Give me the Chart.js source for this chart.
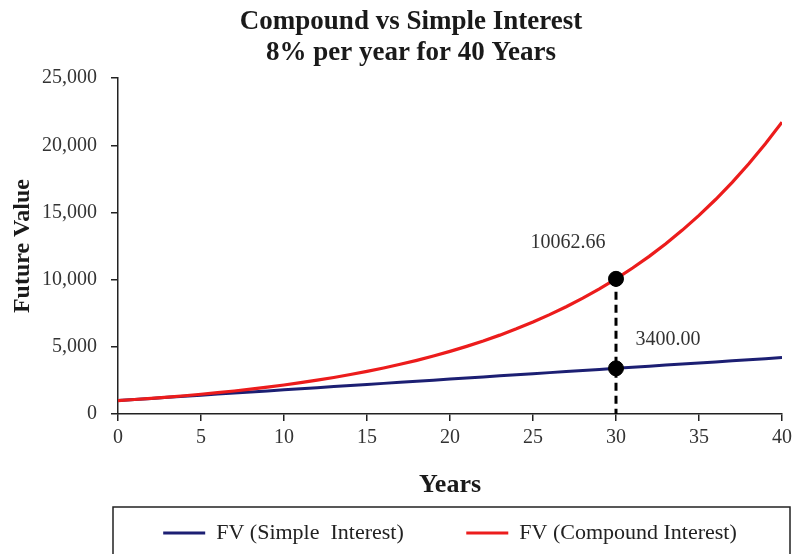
<!DOCTYPE html>
<html>
<head>
<meta charset="utf-8">
<script src="https://cdn.jsdelivr.net/npm/chart.js@4/dist/chart.umd.min.js"></script>
<style>
  html, body { margin: 0; padding: 0; background: #fff; }
  #wrap { width: 792px; height: 554px; }
</style>
</head>
<body>
<div id="wrap"><canvas id="fvChart"></canvas></div>
<script>
// data
const years = [0, 1, 2, 3, 4, 5, 6, 7, 8, 9, 10, 11, 12, 13, 14, 15, 16, 17, 18, 19, 20,
  21, 22, 23, 24, 25, 26, 27, 28, 29, 30, 31, 32, 33, 34, 35, 36, 37, 38, 39, 40];
const simpleFV = [1000, 1080, 1160, 1240, 1320, 1400, 1480, 1560, 1640, 1720, 1800,
  1880, 1960, 2040, 2120, 2200, 2280, 2360, 2440, 2520, 2600,
  2680, 2760, 2840, 2920, 3000, 3080, 3160, 3240, 3320, 3400,
  3480, 3560, 3640, 3720, 3800, 3880, 3960, 4040, 4120, 4200];
const compoundFV = [1000, 1080, 1166.40, 1259.71, 1360.49, 1469.33, 1586.87, 1713.82, 1850.93, 1999.00, 2158.92,
  2331.64, 2518.17, 2719.62, 2937.19, 3172.17, 3425.94, 3700.02, 3996.02, 4315.70, 4660.96,
  5033.83, 5436.54, 5871.46, 6341.18, 6848.48, 7396.35, 7988.06, 8627.11, 9317.27, 10062.66,
  10867.67, 11737.08, 12676.05, 13690.13, 14785.34, 15968.17, 17245.63, 18625.28, 20115.30, 21724.52];
const markYear = 30;
const markValues = [10062.66, 3400.00];
const xTicks = [0, 5, 10, 15, 20, 25, 30, 35, 40];
const yTicks = [0, 5000, 10000, 15000, 20000, 25000];

const serif = "'Liberation Serif', 'Times New Roman', serif";
const toPoints = (vals) => vals.map((v, i) => ({ x: years[i], y: v }));

// 값 라벨 + 범례 테두리
const extrasPlugin = {
  id: 'extras',
  afterDatasetsDraw(chart) {
    const ctx = chart.ctx;
    const meta = chart.getDatasetMeta(3);
    const offsets = [[-48, -36], [52, -29]];
    ctx.save();
    ctx.font = "20px " + serif;
    ctx.fillStyle = '#333';
    ctx.textAlign = 'center';
    ctx.textBaseline = 'middle';
    meta.data.forEach((pt, i) => {
      ctx.fillText(markValues[i].toFixed(2), pt.x + offsets[i][0], pt.y + offsets[i][1]);
    });
    ctx.restore();
  },
  afterDraw(chart) {
    const lg = chart.legend;
    const ca = chart.chartArea;
    const ctx = chart.ctx;
    ctx.save();
    ctx.strokeStyle = '#222';
    ctx.lineWidth = 1.5;
    ctx.strokeRect(ca.left - 5, lg.top - 2, ca.right - ca.left + 13, 80);
    ctx.restore();
  }
};

const ctx = document.getElementById('fvChart').getContext('2d');
new Chart(ctx, {
  type: 'line',
  data: {
    datasets: [
      {
        label: 'FV (Simple  Interest)',
        data: toPoints(simpleFV),
        borderColor: '#1c1f73',
        backgroundColor: '#1c1f73',
        borderWidth: 3,
        pointRadius: 0,
        order: 3
      },
      {
        label: 'FV (Compound Interest)',
        data: toPoints(compoundFV),
        borderColor: '#ec1c1c',
        backgroundColor: '#ec1c1c',
        borderWidth: 3.2,
        pointRadius: 0,
        order: 2
      },
      {
        label: 'drop',
        data: [{ x: markYear, y: markValues[0] }, { x: markYear, y: 0 }],
        borderColor: '#000',
        borderWidth: 3,
        borderDash: [8, 5],
        pointRadius: 0,
        order: 1
      },
      {
        label: 'marks',
        data: markValues.map(v => ({ x: markYear, y: v })),
        showLine: false,
        pointRadius: 7.5,
        pointBackgroundColor: '#000',
        pointBorderColor: '#000',
        order: 0
      }
    ]
  },
  options: {
    responsive: true,
    maintainAspectRatio: false,
    animation: false,
    // left padding only shifts the title; the y axis width below keeps the plot at x=118
    layout: { padding: { left: 40, right: 10, top: 0, bottom: 0 } },
    plugins: {
      title: {
        display: true,
        text: ['Compound vs Simple Interest', '8% per year for 40 Years'],
        color: '#1a1a1a',
        font: { family: serif, size: 27, weight: 'bold', lineHeight: 1.17 },
        padding: { top: 6, bottom: 9 }
      },
      legend: {
        position: 'bottom',
        fullSize: false,
        labels: {
          usePointStyle: true,
          pointStyleWidth: 42,
          padding: 13,
          color: '#222',
          font: { family: serif, size: 22 },
          filter: (item) => item.datasetIndex < 2,
          sort: (a, b) => a.datasetIndex - b.datasetIndex,
          generateLabels(chart) {
            const items = Chart.defaults.plugins.legend.labels.generateLabels(chart);
            return items.map(it => {
              it.pointStyle = 'line';
              it.lineWidth = 3;
              if (it.datasetIndex === 0) it.text = it.text + '         ';
              return it;
            });
          }
        }
      },
      tooltip: { enabled: false }
    },
    scales: {
      x: {
        type: 'linear',
        min: 0,
        max: 40,
        afterBuildTicks: (scale) => { scale.ticks = xTicks.map(v => ({ value: v })); },
        afterFit: (scale) => {
          scale.height = 95;
          scale.paddingRight = 0;
        },
        grid: { drawOnChartArea: false, drawTicks: true, tickLength: 7, color: '#222', lineWidth: 1.5 },
        border: { color: '#222', width: 1.5 },
        ticks: { color: '#333', padding: 5, font: { family: serif, size: 20 } },
        title: {
          display: true,
          text: 'Years',
          color: '#1a1a1a',
          font: { family: serif, size: 26, weight: 'bold' },
          padding: { top: 0, bottom: 8 }
        }
      },
      y: {
        min: 0,
        max: 25000,
        afterBuildTicks: (scale) => { scale.ticks = yTicks.map(v => ({ value: v })); },
        afterFit: (scale) => { scale.width = 78; },
        grid: { drawOnChartArea: false, drawTicks: true, tickLength: 7, color: '#222', lineWidth: 1.5 },
        border: { color: '#222', width: 1.5 },
        ticks: { color: '#333', padding: 14, font: { family: serif, size: 20 } },
        title: {
          display: true,
          text: 'Future Value',
          color: '#1a1a1a',
          font: { family: serif, size: 24, weight: 'bold' },
          padding: { top: -32, bottom: 0 }
        }
      }
    }
  },
  plugins: [extrasPlugin]
});
</script>
</body>
</html>
